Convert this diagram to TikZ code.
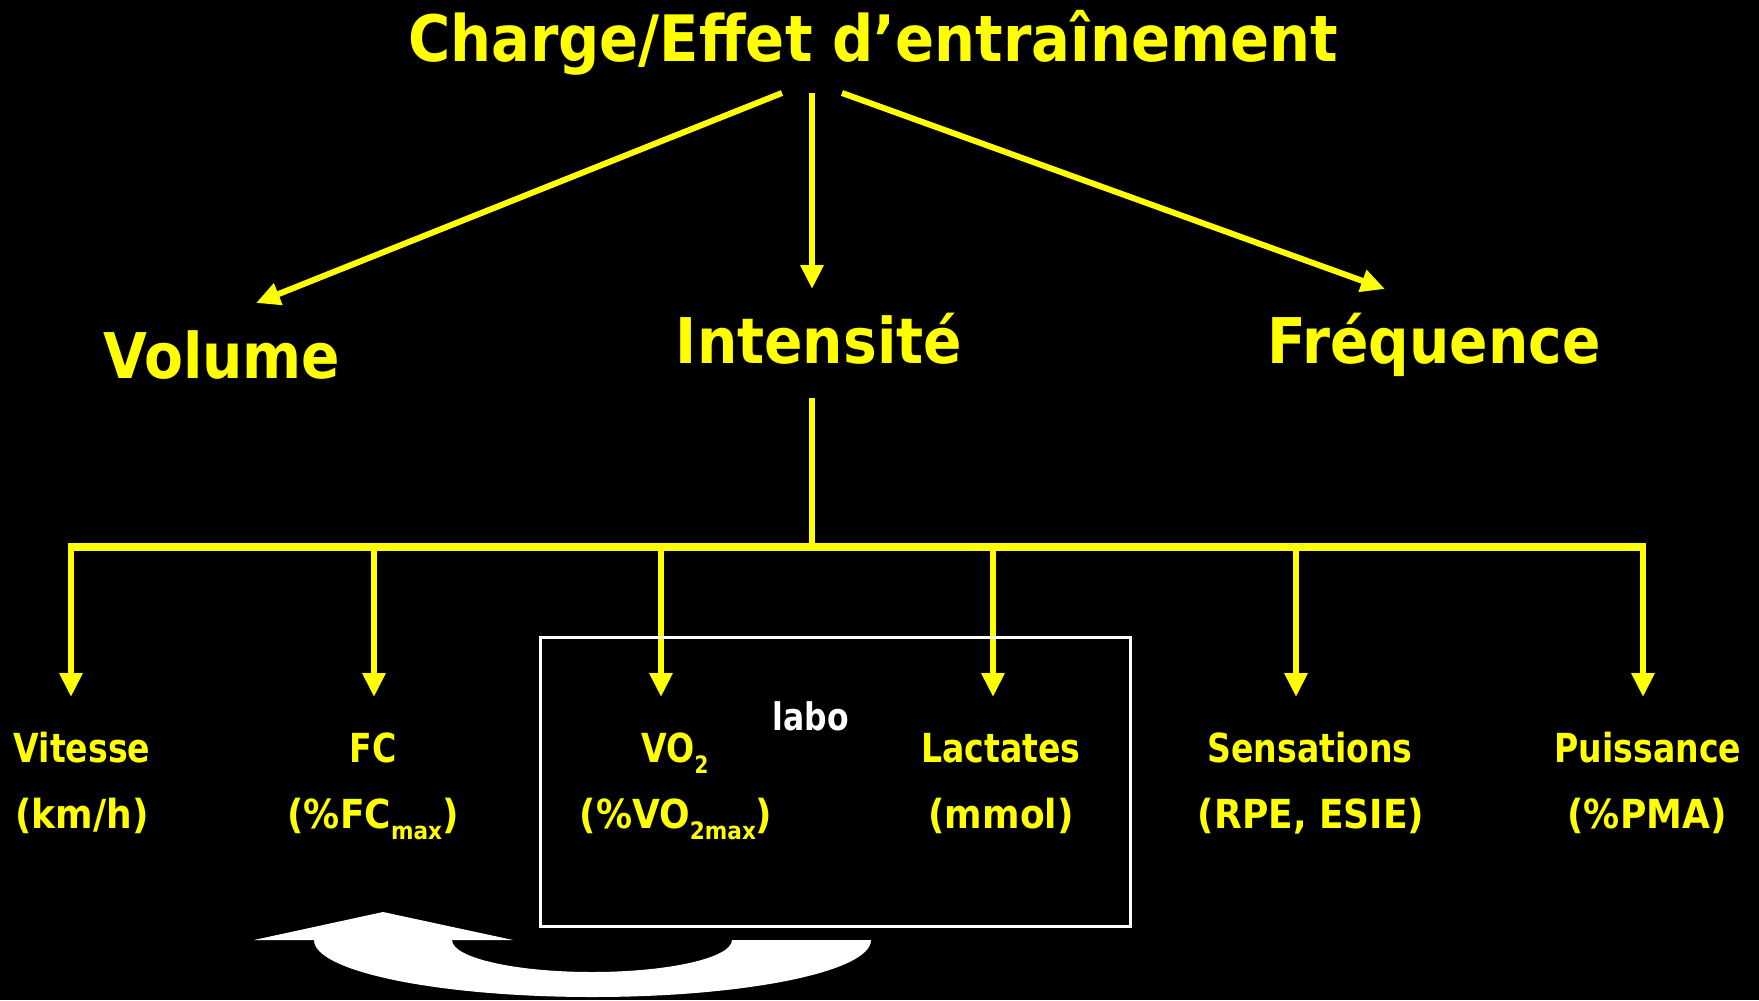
\documentclass[tikz,border=0pt]{standalone}
\usepackage{fontspec}
\setmainfont{DejaVu Sans Condensed}[BoldFont={DejaVu Sans Condensed Bold}]
\newfontfamily\narrowf{DejaVu Sans Condensed}[BoldFont={DejaVu Sans Condensed Bold},FakeStretch=0.92]
\usetikzlibrary{arrows.meta}
\definecolor{ylw}{RGB}{255,255,0}
\newcommand\lowsub[1]{\raisebox{-5.5pt}{\fontsize{12}{12}\selectfont #1}}
\begin{document}
\begin{tikzpicture}[x=0.5pt,y=0.5pt,
  big/.style={text=ylw,font=\bfseries\fontsize{31.5}{36}\selectfont,anchor=base,inner sep=0pt},
  small/.style={text=ylw,font=\narrowf\bfseries\fontsize{20}{24}\selectfont,anchor=base,inner sep=0pt},
  unit/.style={text=ylw,font=\bfseries\fontsize{20}{24}\selectfont,anchor=base,inner sep=0pt},
  conn/.style={draw=ylw,line width=3pt},
  arr/.style={conn,-{Triangle[length=12pt,width=11pt]}}]
\fill[black] (0,0) rectangle (1759,-1000);
\useasboundingbox (0,0) rectangle (1759,-1000);

% top level
\node[big,font=\bfseries\fontsize{32}{36}\selectfont] (title) at (873,-62) {Charge/Effet d’entraînement};
\node[big] (vol) at (222,-378) {Volume};
\node[big] (int) at (819,-363) {Intensité};
\node[big] (freq) at (1434,-363) {Fréquence};

\coordinate (tl) at (782,-93);
\coordinate (tm) at (812,-93);
\coordinate (tr) at (842,-93);
\coordinate (vtip) at (256,-303);
\coordinate (itip) at (812,-289);
\coordinate (ftip) at (1385,-289);
\draw[arr] (tl) -- (vtip);
\draw[arr] (tm) -- (itip);
\draw[arr] (tr) -- (ftip);

% trunk and bar
\coordinate (itrunk) at (812,-398);
\coordinate (hub) at (812,-547);
\draw[conn] (itrunk) -- (hub);
\coordinate (barL) at (68,-547);
\coordinate (barR) at (1646,-547);
\draw[conn,line width=4pt] (barL) -- (barR);

\foreach \n/\x in {a/71,b/374,c/661,d/993,e/1296,f/1643}{
  \coordinate (top\n) at (\x,-545);
  \coordinate (tip\n) at (\x,-697);
  \draw[arr] (top\n) -- (tip\n);
}

% bottom labels
\node[small] (vit) at (82,-762) {Vitesse};
\node[unit] (vitu) at (82,-828) {(km/h)};
\node[small] (fc) at (373,-762) {FC};
\node[unit] (fcu) at (373,-828) {(\%FC\lowsub{max})};
\node[small] (vo) at (675,-762) {VO\lowsub{2}};
\node[unit] (vou) at (676,-828) {(\%VO\lowsub{2max})};
\node[small] (lac) at (1001,-762) {Lactates};
\node[unit] (lacu) at (1001,-828) {(mmol)};
\node[small] (sen) at (1310,-762) {Sensations};
\node[unit] (senu) at (1311,-828) {(RPE, ESIE)};
\node[small] (pui) at (1648,-762) {Puissance};
\node[unit] (puiu) at (1647,-828) {(\%PMA)};

% labo box
\draw[white,line width=1.5pt] (540,-637) rectangle (1130,-926);
\node[small,text=white,font=\narrowf\bfseries\fontsize{19}{24}\selectfont] (labo) at (811,-730) {labo};

% curved white arrow
\fill[white] (254,-940) -- (383,-912) -- (513,-940) -- (452,-940)
  arc[start angle=180,end angle=360,x radius=140,y radius=32]
  -- (871,-940)
  arc[start angle=0,end angle=-180,x radius=278.5,y radius=57]
  -- cycle;
\end{tikzpicture}
\end{document}
